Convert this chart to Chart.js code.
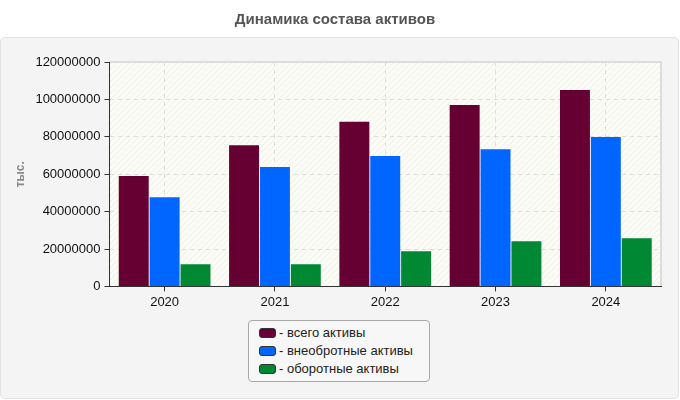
<!DOCTYPE html>
<html lang="ru">
<head>
<meta charset="UTF-8">
<title>Динамика состава активов</title>
<script src="https://cdn.jsdelivr.net/npm/chart.js"></script>
<style>
    body {
        margin: 0;
        width: 680px;
        height: 400px;
        position: relative;
        background: #fff;
        font-family: "Liberation Sans", Arial, sans-serif;
        overflow: hidden;
    }

    .panel {
        position: absolute;
        left: 0;
        top: 37px;
        width: 677px;
        height: 360px;
        background: #f4f4f4;
        border: 1px solid #e2e2e2;
        border-radius: 5px;
    }

    #chartWrap {
        position: absolute;
        left: 0;
        top: 0;
        width: 680px;
        height: 400px;
    }

    .legend {
        position: absolute;
        left: 248px;
        top: 320px;
        width: 182px;
        height: 62px;
        border: 1px solid #a8a8a8;
        border-radius: 4px;
        background: #f7f7f7;
        box-sizing: border-box;
        padding: 3px 0 0 10px;
        font-size: 13px;
        color: #222;
    }

    .legend div {
        height: 18px;
        line-height: 18px;
        white-space: nowrap;
    }

    .legend span {
        display: inline-block;
        width: 15px;
        height: 8px;
        border: 1px solid #333;
        border-radius: 3px;
        margin-right: 3px;
        vertical-align: -1px;
    }
</style>
</head>
<body>
<div class="panel"></div>
<div id="chartWrap"><canvas id="assetsChart" width="680" height="400"></canvas></div>
<div class="legend" id="legend"></div>

<script>
    // данные
    const years = ['2020', '2021', '2022', '2023', '2024'];
    const totalAssets = [59000000, 75500000, 88000000, 97000000, 105000000];
    const nonCurrentAssets = [47700000, 63800000, 69700000, 73400000, 79900000];
    const currentAssets = [11800000, 11800000, 18800000, 24100000, 25800000];
    const yTicks = [0, 20000000, 40000000, 60000000, 80000000, 100000000, 120000000];

    // фон области построения: светлая штриховка + рамка сверху/справа
    const plotBg = {
        id: 'plotBg',
        beforeDraw(chart) {
            const {ctx, chartArea: a} = chart;
            const pc = document.createElement('canvas');
            pc.width = 6;
            pc.height = 6;
            const p = pc.getContext('2d');
            p.fillStyle = '#fcfcf7';
            p.fillRect(0, 0, 6, 6);
            p.strokeStyle = '#eeeee8';
            p.lineWidth = 1;
            p.beginPath();
            p.moveTo(0, 6);
            p.lineTo(6, 0);
            p.stroke();
            ctx.save();
            ctx.fillStyle = ctx.createPattern(pc, 'repeat');
            ctx.fillRect(a.left, a.top, a.right - a.left, a.bottom - a.top);
            ctx.strokeStyle = '#dcdcdc';
            ctx.lineWidth = 2;
            ctx.beginPath();
            ctx.moveTo(a.left, a.top);
            ctx.lineTo(a.right, a.top);
            ctx.lineTo(a.right, a.bottom);
            ctx.stroke();
            ctx.restore();
        }
    };

    const chart = new Chart(document.getElementById('assetsChart'), {
        type: 'bar',
        data: {
            labels: years,
            datasets: [{
                label: 'всего активы',
                data: totalAssets,
                backgroundColor: '#660033'
            }, {
                label: 'внеобротные активы',
                data: nonCurrentAssets,
                backgroundColor: '#0066ff'
            }, {
                label: 'оборотные активы',
                data: currentAssets,
                backgroundColor: '#008833'
            }]
        },
        options: {
            responsive: false,
            animation: false,
            categoryPercentage: 0.84,
            barPercentage: 0.97,
            layout: {
                padding: {left: 9, right: 19, bottom: 87}
            },
            plugins: {
                legend: {display: false},
                tooltip: {enabled: false},
                title: {
                    display: true,
                    text: 'Динамика состава активов',
                    color: '#555',
                    font: {family: '"Liberation Sans", Arial, sans-serif', size: 15, weight: 'bold'},
                    padding: {top: 11, bottom: 33}
                }
            },
            scales: {
                x: {
                    grid: {
                        offset: false,
                        color: '#dddddd',
                        tickColor: '#333',
                        tickLength: 5
                    },
                    border: {color: '#333', width: 1, dash: [4, 4]},
                    ticks: {
                        color: '#111',
                        padding: 3,
                        font: {family: '"Liberation Sans", Arial, sans-serif', size: 13}
                    }
                },
                y: {
                    min: 0,
                    max: 120000000,
                    afterBuildTicks(axis) {
                        axis.ticks = yTicks.map(v => ({value: v}));
                    },
                    grid: {
                        color: '#dddddd',
                        tickColor: '#333',
                        tickLength: 5
                    },
                    border: {color: '#333', width: 1, dash: [4, 4]},
                    ticks: {
                        color: '#111',
                        padding: 4,
                        font: {family: '"Liberation Sans", Arial, sans-serif', size: 13},
                        callback: v => String(v)
                    },
                    title: {
                        display: true,
                        text: 'тыс.',
                        color: '#888',
                        font: {family: '"Liberation Sans", Arial, sans-serif', size: 12, weight: 'bold'},
                        padding: {top: 4, bottom: 4}
                    }
                }
            }
        },
        plugins: [plotBg]
    });

    // легенда
    const legend = document.getElementById('legend');
    chart.data.datasets.forEach(ds => {
        const row = document.createElement('div');
        const sw = document.createElement('span');
        sw.style.background = ds.backgroundColor;
        row.appendChild(sw);
        row.appendChild(document.createTextNode('- ' + ds.label));
        legend.appendChild(row);
    });
</script>
</body>
</html>
